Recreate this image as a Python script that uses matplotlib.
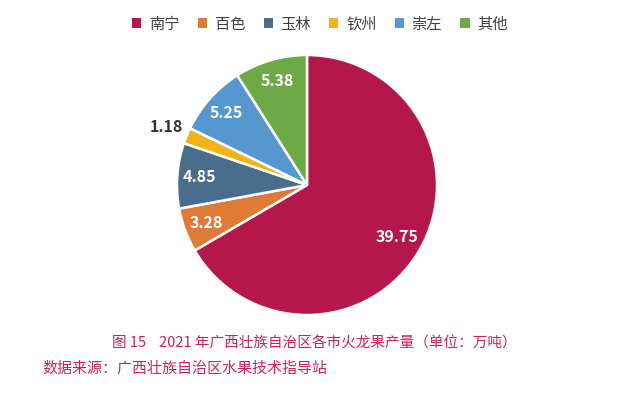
import matplotlib
matplotlib.use("Agg")
import matplotlib.pyplot as plt
from matplotlib.patches import Patch
import numpy as np

plt.rcParams['font.family'] = ['Noto Sans CJK SC', 'DejaVu Sans']

cities = ['南宁', '百色', '玉林', '钦州', '崇左', '其他']
values = [39.75, 3.28, 4.85, 1.18, 5.25, 5.38]
colors = ['#B5174B', '#E07B35', '#4A6D8C', '#F2B316', '#5697D0', '#6DA945']
caption = '图 15    2021 年广西壮族自治区各市火龙果产量（单位：万吨）'
source = '数据来源：广西壮族自治区水果技术指导站'

fig = plt.figure(figsize=(6.17, 3.97), dpi=100)
ax = fig.add_axes([177/617, 82/397, 260/617, 260/397])
wedges, _ = ax.pie(values, colors=colors, startangle=90, counterclock=False,
                   radius=1, wedgeprops=dict(edgecolor='white', linewidth=1.8))
ax.set_xlim(-1, 1)
ax.set_ylim(-1, 1)
ax.set_aspect('equal')
ax.axis('off')

for w, v in zip(wedges, values):
    ang = np.deg2rad((w.theta1 + w.theta2) / 2)
    if v < 2:
        r = 1.17
        ax.text(r*np.cos(ang), r*np.sin(ang), f'{v:.2f}', ha='center', va='center',
                fontsize=11.5, fontweight='bold', color='#333333', clip_on=False)
    else:
        r = 0.8 if v > 30 else 0.83
        ax.text(r*np.cos(ang), r*np.sin(ang), f'{v:.2f}', ha='center', va='center',
                fontsize=11.5, fontweight='bold', color='white')

handles = [Patch(facecolor=c, edgecolor='none') for c in colors]
fig.legend(handles, cities, loc='center', bbox_to_anchor=(320/617, 1-24/397), ncol=6,
           frameon=False, fontsize=11, handlelength=0.6, handleheight=0.6,
           handletextpad=0.5, columnspacing=1.2, labelcolor='#404040')

fig.text(314/617, 1-344/397, caption, ha='center', va='center', fontsize=10.5, color='#C8215E')
fig.text(42/617, 1-368/397, source, ha='left', va='center', fontsize=10.8, color='#C8215E')

fig.savefig('out.png', dpi=100)
